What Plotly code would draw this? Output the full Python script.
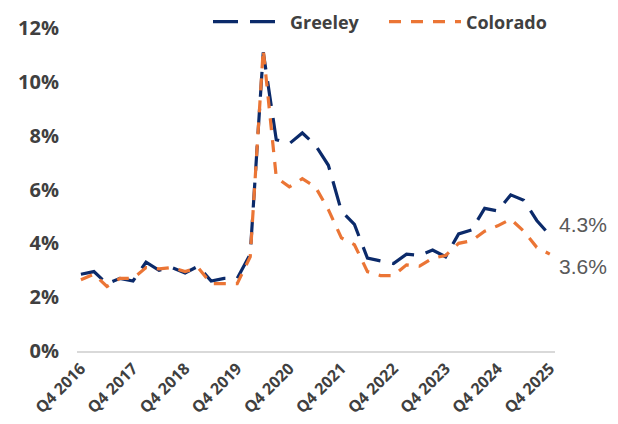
import plotly.graph_objects as go

quarters = ["Q4 2016", "Q1 2017", "Q2 2017", "Q3 2017", "Q4 2017", "Q1 2018", "Q2 2018", "Q3 2018",
            "Q4 2018", "Q1 2019", "Q2 2019", "Q3 2019", "Q4 2019", "Q1 2020", "Q2 2020", "Q3 2020",
            "Q4 2020", "Q1 2021", "Q2 2021", "Q3 2021", "Q4 2021", "Q1 2022", "Q2 2022", "Q3 2022",
            "Q4 2022", "Q1 2023", "Q2 2023", "Q3 2023", "Q4 2023", "Q1 2024", "Q2 2024", "Q3 2024",
            "Q4 2024", "Q1 2025", "Q2 2025", "Q3 2025", "Q4 2025"]

greeley = [2.85, 2.95, 2.5, 2.7, 2.6, 3.3, 3.0, 3.1, 2.9, 3.15, 2.6, 2.7, 2.7, 3.6, 11.1, 7.85,
           7.7, 8.1, 7.65, 6.9, 5.2, 4.7, 3.45, 3.35, 3.25, 3.6, 3.55, 3.75, 3.5, 4.35, 4.5, 5.3,
           5.2, 5.8, 5.6, 4.85, 4.3]

colorado = [2.65, 2.85, 2.4, 2.7, 2.7, 3.1, 3.05, 3.1, 2.95, 3.1, 2.5, 2.5, 2.5, 3.5, 11.2, 6.45,
            6.1, 6.4, 6.1, 5.25, 4.2, 3.95, 2.95, 2.8, 2.8, 3.2, 3.15, 3.45, 3.55, 4.0, 4.1, 4.45,
            4.65, 4.9, 4.45, 3.85, 3.6]

tick_labels = ["Q4 2016", "Q4 2017", "Q4 2018", "Q4 2019", "Q4 2020", "Q4 2021",
               "Q4 2022", "Q4 2023", "Q4 2024", "Q4 2025"]
y_ticks = [0, 2, 4, 6, 8, 10, 12]

x_idx = list(range(len(quarters)))
tick_idx = [quarters.index(t) for t in tick_labels]

NAVY = "#0B2A6A"
ORANGE = "#EB7535"
TEXT = "#404040"

fig = go.Figure()
fig.add_trace(go.Scatter(x=x_idx, y=greeley, mode="lines", name="Greeley", legend="legend",
                         line=dict(color=NAVY, width=3.2, dash="25px,12px")))
fig.add_trace(go.Scatter(x=x_idx, y=colorado, mode="lines", name="Colorado", legend="legend2",
                         line=dict(color=ORANGE, width=3.2, dash="12px,10px")))

fig.add_annotation(x=x_idx[-1], y=greeley[-1], text=f"{greeley[-1]:.1f}%", showarrow=False,
                   xanchor="left", yanchor="middle", xshift=7, yshift=11,
                   font=dict(family="Liberation Sans, Arial", size=21, color="#595959"))
fig.add_annotation(x=x_idx[-1], y=colorado[-1], text=f"{colorado[-1]:.1f}%", showarrow=False,
                   xanchor="left", yanchor="middle", xshift=7, yshift=-12,
                   font=dict(family="Liberation Sans, Arial", size=21, color="#595959"))

legend_common = dict(orientation="h", xref="container", yref="container",
                     xanchor="left", y=1 - 14 / 424, yanchor="middle",
                     font=dict(family="Open Sans", size=18, color=TEXT, weight="bold"),
                     itemwidth=72, bgcolor="rgba(0,0,0,0)")

fig.update_layout(
    width=618, height=424,
    margin=dict(l=69, r=71, t=20, b=81, autoexpand=False),
    paper_bgcolor="white", plot_bgcolor="white",
    showlegend=True,
    legend=dict(x=200 / 618, **legend_common),
    legend2=dict(x=376 / 618, **legend_common),
    xaxis=dict(range=[-0.3, 36.4], tickmode="array", tickvals=tick_idx, ticktext=tick_labels,
               tickangle=-45, showgrid=False, zeroline=False, showline=True,
               linecolor="#D9D9D9", linewidth=2, ticks="", automargin=False,
               tickfont=dict(family="Open Sans", size=16, color=TEXT, weight="bold")),
    yaxis=dict(range=[0, 12], tickmode="array", tickvals=y_ticks,
               ticktext=[f"{v}%" for v in y_ticks], showgrid=False, zeroline=False,
               showline=False, ticks="", ticklabelstandoff=17, automargin=False,
               tickfont=dict(family="Open Sans", size=20, color=TEXT, weight="bold")),
)

fig.write_html("out.html")
